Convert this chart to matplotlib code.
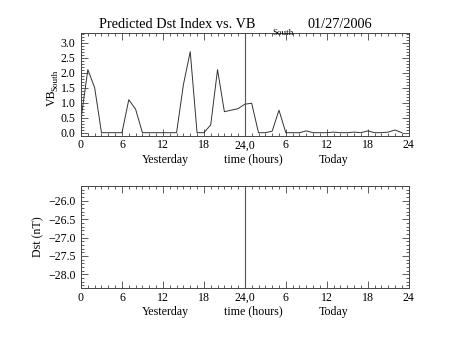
import numpy as np
import matplotlib.pyplot as plt
from matplotlib.ticker import MultipleLocator, FuncFormatter

# hourly VB south values, yesterday 0h .. today 23h
hours = np.arange(48)
vb_south = [0.45, 2.1, 1.5, 0.0, 0.0, 0.0, 0.0, 1.1, 0.78, 0.0,
            0.0, 0.0, 0.0, 0.0, 0.0, 1.6, 2.7, 0.0, 0.0, 0.26,
            2.1, 0.7, 0.75, 0.8, 0.95, 0.98, 0.0, 0.0, 0.05, 0.75,
            0.0, 0.0, 0.0, 0.06, 0.0, 0.0, 0.0, 0.02, 0.0, 0.0,
            0.02, 0.0, 0.06, 0.0, 0.0, 0.02, 0.09, 0.0]

x_ticks = [0, 6, 12, 18, 24, 30, 36, 42, 48]
x_tick_labels = ["0", "6", "12", "18", "24,0", "6", "12", "18", "24"]

vb_ylim = (-0.11, 3.31)
dst_ylim = (-28.38, -25.59)

FONT = "Liberation Serif"
plt.rcParams["font.family"] = [FONT, "DejaVu Serif"]
plt.rcParams["font.size"] = 8.6

fig = plt.figure(figsize=(4.53, 3.40), dpi=100)
W, H = 453.0, 340.0


def axes_px(left, top, right, bottom):
    return fig.add_axes([left / W, 1 - bottom / H, (right - left) / W, (bottom - top) / H])


def style_axes(ax, ylim, ymajor, yminor, label_y):
    ax.set_xlim(0, 48)
    ax.set_ylim(*ylim)
    ax.set_xticks(x_ticks)
    ax.set_xticklabels(x_tick_labels)
    ax.xaxis.set_minor_locator(MultipleLocator(1))
    ax.yaxis.set_major_locator(MultipleLocator(ymajor))
    ax.yaxis.set_minor_locator(MultipleLocator(yminor))
    ax.yaxis.set_major_formatter(FuncFormatter(lambda v, p: f"{v:.1f}".replace("-", "\u2212")))
    ax.tick_params(which="both", direction="in", top=True, right=True,
                   color="#444444", width=0.6, labelsize=8.6, pad=4)
    ax.tick_params(axis="x", which="major", pad=2.5)
    ax.tick_params(which="major", length=5)
    ax.tick_params(which="minor", length=2.5)
    for s in ax.spines.values():
        s.set_color("#444444")
        s.set_linewidth(0.7)
    ax.axvline(24, color="#555555", lw=0.8)
    # day labels under the hour ticks
    y = 1 - label_y / H
    fig.text(165.7 / W, y, "Yesterday", ha="center", va="center")
    fig.text(253 / W, y, "time (hours)", ha="center", va="center")
    fig.text(334 / W, y, "Today", ha="center", va="center")


ax1 = axes_px(81, 33.3, 408.7, 136)
ax1.plot(hours, vb_south, color="#333333", lw=0.7)
style_axes(ax1, vb_ylim, 0.5, 0.1, 159.5)

ax2 = axes_px(81, 185.7, 408.7, 288.3)
style_axes(ax2, dst_ylim, 0.5, 0.1, 311.5)

# title with subscript
fig.text(99 / W, 1 - 24 / H, "Predicted Dst Index vs. VB", ha="left", va="center", fontsize=10.3)
fig.text(272 / W, 1 - 33 / H, "South", ha="left", va="center", fontsize=6.5)
fig.text(308 / W, 1 - 24 / H, "01/27/2006", ha="left", va="center", fontsize=10.3)

# y axis titles
fig.text(51.5 / W, 1 - 98 / H, "VB", rotation=90, ha="center", va="center")
fig.text(55 / W, 1 - 91 / H, "South", rotation=90, ha="center", va="bottom", fontsize=6.5)
fig.text(38 / W, 1 - 237 / H, "Dst (nT)", rotation=90, ha="center", va="center")

fig.savefig("out.png", dpi=100)
